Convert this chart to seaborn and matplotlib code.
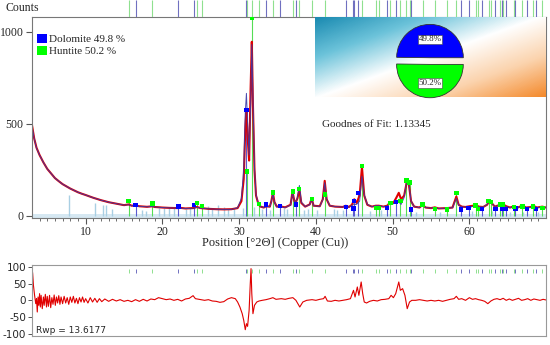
import numpy as np
import matplotlib.pyplot as plt
import matplotlib.colors as mcolors
from matplotlib.patches import Patch
from matplotlib.transforms import blended_transform_factory
import seaborn as sns

obs_2theta = [3.0, 3.3, 3.6, 4.0, 4.5, 5.0, 5.5, 6.0, 6.5, 7.0, 7.5, 8.0, 8.5, 9.0, 9.5, 10.0,
              11.0, 12.0, 13.0, 14.0, 15.0, 15.6, 16.0, 16.5, 17.0, 18.0, 18.7, 19.0, 20.0, 21.0,
              22.0, 22.2, 23.0, 24.0, 24.5, 25.0, 26.0, 27.0, 28.0, 29.0, 29.8, 30.3, 30.6, 30.8,
              30.95, 31.1, 31.3, 31.5, 31.65, 31.8, 32.0, 32.2, 32.5, 32.8, 33.2, 33.5, 34.0, 34.2,
              34.4, 34.6, 34.9, 35.3, 36.0, 36.7, 36.95, 37.2, 37.4, 37.6, 37.85, 38.1, 38.6, 39.2,
              39.45, 39.7, 40.5, 40.9, 41.15, 41.4, 41.8, 42.5, 43.5, 43.9, 44.3, 44.7, 45.0, 45.3,
              45.7, 46.0, 46.3, 46.7, 47.3, 47.8, 48.2, 48.8, 49.3, 49.7, 50.1, 50.5, 50.8, 51.1,
              51.5, 51.85, 52.1, 52.4, 52.8, 53.5, 53.9, 54.3, 55.0, 55.5, 56.0, 57.1, 57.8, 58.3,
              58.6, 59.0, 59.5, 60.0, 60.5, 60.8, 61.2, 61.8, 62.3, 62.6, 62.9, 63.3, 64.0, 64.4,
              64.8, 65.3, 65.8, 66.3, 66.9, 67.4, 68.0, 68.3, 68.8, 69.5, 70.0]
obs_counts = [495, 420, 370, 330, 290, 255, 230, 205, 188, 172, 160, 148, 138, 128, 120, 113,
              98, 85, 74, 66, 58, 62, 55, 56, 52, 49, 52, 48, 45, 43,
              42, 44, 40, 42, 48, 42, 38, 36, 35, 36, 42, 80, 200, 470,
              580, 430, 300, 700, 945, 600, 250, 110, 65, 50, 45, 52, 50, 80,
              125, 75, 50, 52, 46, 60, 130, 80, 75, 95, 145, 70, 50, 62,
              95, 55, 52, 90, 190, 90, 55, 50, 48, 55, 48, 60, 90, 70,
              110, 265, 110, 60, 50, 55, 55, 50, 55, 75, 70, 100, 125, 90,
              110, 185, 175, 80, 50, 45, 60, 45, 42, 46, 40, 42, 45, 105,
              60, 50, 48, 52, 55, 62, 50, 48, 60, 80, 70, 50, 60, 62,
              52, 45, 52, 45, 55, 45, 48, 55, 45, 50, 45]
calc_counts = [490, 420, 368, 330, 290, 255, 230, 205, 188, 172, 160, 148, 138, 128, 120, 113,
               98, 85, 74, 66, 58, 60, 55, 55, 52, 49, 51, 48, 45, 43,
               42, 43, 40, 41, 46, 42, 38, 36, 35, 35, 44, 95, 250, 560,
               665, 505, 330, 610, 930, 640, 265, 115, 67, 50, 45, 51, 49, 78,
               120, 74, 49, 51, 45, 58, 125, 80, 76, 100, 165, 75, 50, 61,
               93, 55, 51, 88, 180, 92, 56, 50, 48, 54, 47, 57, 62, 62,
               80, 215, 115, 62, 50, 55, 55, 50, 53, 70, 65, 82, 75, 62,
               100, 195, 180, 80, 50, 45, 58, 45, 42, 46, 40, 42, 44, 95,
               58, 48, 48, 46, 52, 58, 49, 48, 62, 82, 70, 50, 58, 58,
               50, 45, 50, 45, 52, 45, 47, 52, 45, 48, 44]

# difference curve (observed - calculated)
diff_2theta = [3.0, 3.1, 3.2, 3.35, 3.5, 3.6, 3.7, 3.8, 3.9, 4.0, 4.1, 4.2, 4.35, 4.5, 4.6, 4.75,
               4.9, 5.0, 5.15, 5.3, 5.45, 5.6, 5.75, 5.9, 6.05, 6.2, 6.35, 6.5, 6.65, 6.8, 7.0,
               7.2, 7.4, 7.6, 7.8, 8.0, 8.2, 8.4, 8.6, 8.8, 9.0, 9.2, 9.4, 9.6, 9.8, 10.0, 10.3,
               10.6, 10.9, 11.2, 11.5, 11.8, 12.1, 12.5, 13.0, 13.5, 14.0, 14.5, 15.0, 15.5, 16.0,
               16.5, 17.0, 17.5, 18.0, 18.5, 19.0, 19.5, 20.0, 20.5, 21.0, 21.5, 22.0, 22.5, 23.0,
               23.5, 24.0, 24.3, 24.8, 25.5, 26.0, 26.5, 27.0, 27.5, 28.0, 28.5, 29.0, 29.5, 29.8,
               30.1, 30.4, 30.6, 30.8, 30.95, 31.1, 31.3, 31.45, 31.55, 31.65, 31.8, 32.0, 32.3,
               32.6, 33.0, 33.5, 34.0, 34.4, 34.8, 35.5, 36.0, 36.5, 37.0, 37.4, 37.9, 38.3, 38.8,
               39.5, 40.0, 40.5, 41.0, 41.2, 41.5, 42.0, 42.5, 43.0, 43.5, 44.0, 44.5, 44.9, 45.1,
               45.4, 45.6, 45.9, 46.1, 46.3, 46.6, 47.0, 47.5, 48.0, 48.5, 49.0, 49.5, 49.8, 50.1,
               50.4, 50.8, 51.0, 51.3, 51.6, 51.9, 52.2, 52.5, 53.0, 53.5, 54.0, 54.5, 55.0, 55.5,
               56.0, 56.5, 57.0, 57.5, 58.0, 58.3, 58.6, 59.0, 59.5, 60.0, 60.4, 60.8, 61.2, 61.6,
               62.0, 62.4, 62.8, 63.2, 63.6, 64.0, 64.4, 64.8, 65.2, 65.6, 66.0, 66.4, 66.8, 67.2,
               67.6, 68.0, 68.4, 68.8, 69.2, 69.6, 70.0]
diff_counts = [100, 80, 45, 15, -10, 5, -35, 10, -15, 20, -20, 15, -25, 10, -15, 18,
               -20, 12, -18, 15, -22, 8, -12, 16, -15, 10, -8, 14, -12, 10, -10,
               12, -8, 8, -12, 10, -6, 12, -8, 6, -10, 8, -5, 10, -6, 5, -8,
               8, -5, 6, -6, 5, -4, 4, -3, 3, -2, 2, -3, 0, -4,
               2, -3, 3, -2, 4, 2, 8, 5, 2, 4, 0, 3, -2, 4,
               6, 14, 5, 3, 0, 2, -2, -3, -6, -4, 4, 8, 5, -5,
               -20, -40, -60, -88, -70, -78, -30, 50, 95, 20, -40, -15, -5,
               -2, 0, 2, 5, 8, 3, 5, 3, 6, 8, 0, -20, -5, 0,
               2, 0, 3, 5, 12, -2, -3, 0, -2, 0, 2, 5, 30, 10,
               40, 15, 55, 20, -5, -8, -3, 0, -2, 2, 3, 5, 15, 8,
               20, 55, 30, 35, 15, -25, -5, 0, 0, 2, 0, -2, 0, -2,
               0, -3, 0, 3, 5, 12, 3, 5, 0, 8, 3, 5, 2, 0,
               -3, -10, -2, 3, 5, 2, 6, 0, 4, 0, 3, 6, 0, 2,
               5, 0, 4, 2, 0, 3, 1]

# reference peak positions and heights
dolomite_pos = [16.5, 22.1, 24.1, 30.95, 33.5, 35.3, 37.4, 43.9, 44.9, 45.0, 45.5, 49.3,
                50.4, 52.4, 58.9, 59.9, 61.6, 63.4, 64.3, 64.8, 66.0, 67.5, 68.7]
dolomite_int = [60, 50, 60, 575, 61, 52, 61, 48, 40, 79, 124, 43,
                75, 34, 34, 43, 38, 36, 38, 38, 40, 38, 36]
huntite_pos = [15.6, 18.7, 24.5, 25.2, 31.0, 31.65, 32.6, 34.4, 37.0, 37.8, 39.5, 41.2,
               46.0, 47.8, 48.2, 49.7, 51.0, 51.8, 52.2, 53.9, 55.5, 57.1, 58.3, 60.8,
               61.1, 62.5, 62.8, 64.0, 64.4, 65.8, 66.9, 68.3, 69.5]
huntite_int = [80, 66, 70, 52, 240, 1075, 65, 127, 132, 147, 93, 115,
               272, 43, 43, 70, 80, 192, 181, 61, 38, 34, 124, 57,
               38, 82, 75, 61, 61, 48, 50, 50, 43]
other_pos = [7.8, 11.2, 12.3, 12.6, 13.5, 17.4, 17.9, 19.5, 20.2, 20.8, 21.5, 23.1, 23.6,
             26.0, 26.5, 27.2, 28.0, 28.6, 29.3, 30.5, 32.0, 33.0, 34.0, 35.8, 36.3, 38.5,
             39.0, 40.2, 42.3, 42.8, 43.5, 47.0, 48.5, 53.0, 56.2, 60.3, 63.0, 65.3, 67.0, 69.0]
other_int = [115, 70, 60, 58, 35, 30, 28, 40, 45, 50, 42, 38, 40,
             55, 45, 60, 50, 35, 45, 40, 50, 35, 30, 40, 35, 30,
             35, 30, 35, 30, 30, 25, 30, 20, 20, 25, 25, 20, 20, 20]

phases = ["Dolomite", "Huntite"]
phase_pct = [49.8, 50.2]
phase_colors = ["#0000ff", "#00ff00"]
gof = 1.13345
rwp = 13.6177

sns.set_theme(style="ticks")
plt.rcParams["font.family"] = ["Liberation Serif", "DejaVu Serif"]
plt.rcParams["axes.unicode_minus"] = False

fig = plt.figure(figsize=(5.5, 3.45), dpi=100)
ax = fig.add_axes([0.058, 0.368, 0.935, 0.583])
strip = fig.add_axes([0.058, 0.951, 0.935, 0.049], sharex=ax)
axd = fig.add_axes([0.058, 0.026, 0.935, 0.206], sharex=ax)

# main pattern
ax.axhspan(-12, 8, color="#d6e8f2", lw=0, zorder=0)
ax.vlines(other_pos, 0, other_int, color="#a9cfe3", lw=1)
ax.vlines(dolomite_pos, 0, dolomite_int, color="#5a5ad0", lw=0.8)
ax.vlines(huntite_pos, 0, huntite_int, color="#55dd55", lw=0.8)
sns.lineplot(x=obs_2theta, y=obs_counts, color="#e00000", lw=1.5, ax=ax)
sns.lineplot(x=obs_2theta, y=calc_counts, color="#3a3aa8", lw=0.7, alpha=0.9, ax=ax)
sns.scatterplot(x=dolomite_pos, y=dolomite_int, marker="s", s=10, color="#0000ff",
                edgecolor="none", ax=ax, zorder=5)
sns.scatterplot(x=huntite_pos, y=huntite_int, marker="s", s=10, color="#00ff00",
                edgecolor="none", ax=ax, zorder=5)

ax.set_xlim(3, 70)
ax.set_ylim(-12, 1080)
ax.set_xticks([10, 20, 30, 40, 50, 60])
ax.set_xticks(range(4, 70), minor=True)
ax.set_yticks([0, 500, 1000])
ax.tick_params(axis="both", which="major", length=4, width=0.8, color="#555555",
               labelsize=8.5, pad=2)
ax.tick_params(axis="x", which="minor", length=2, width=0.6, color="#555555")
for s in ax.spines.values():
    s.set_color("#777777")
    s.set_linewidth(0.8)
ax.set_xlabel("Position [°2Θ] (Copper (Cu))", fontsize=9)
ax.xaxis.set_label_coords(0.473, -0.095)
ax.set_ylabel("")

handles = [Patch(facecolor=c, edgecolor="none") for c in phase_colors]
labels = [f"{n} {p} %" for n, p in zip(phases, phase_pct)]
ax.legend(handles, labels, loc="upper left", bbox_to_anchor=(0.0, 0.945), frameon=False,
          handlelength=0.9, handleheight=0.9, handletextpad=0.15, borderaxespad=0.1,
          labelspacing=0.15, fontsize=8)
ax.text(0.564, 0.463, f"Goodnes of Fit: {gof}", transform=ax.transAxes, fontsize=8,
        va="center")
fig.text(5 / 550, 1 - 8 / 345, "Counts", fontsize=8.5, va="center")

# gradient box behind the pie
grad_ax = ax.inset_axes([0.551, 0.602, 0.449, 0.398])
u, v = np.meshgrid(np.linspace(0, 230, 230), np.linspace(0, 80, 80))
t = (77 * u + 213 * v) / (77 * 230 + 213 * 80)
cmap = mcolors.LinearSegmentedColormap.from_list(
    "box", ["#1889b0", "#6cc3da", "#ffffff", "#fbd3ad", "#f48a2c"])
grad_ax.imshow(t, cmap=cmap, aspect="auto", vmin=0, vmax=1)
grad_ax.axis("off")

ax_pie = fig.add_axes([0.709, 0.707, 0.1455, 0.232])
wedges, texts, autotexts = ax_pie.pie(
    phase_pct, colors=phase_colors, startangle=0, counterclock=True, explode=[0.1, 0.1],
    wedgeprops=dict(edgecolor="#333333", lw=0.6), autopct=lambda p: f"{p:.1f}%",
    pctdistance=0.55)
for at in autotexts:
    at.set_fontsize(6.5)
    at.set_bbox(dict(facecolor="white", edgecolor="#444444", lw=0.4, pad=0.6))
ax_pie.set_xlim(-1.2, 1.2)
ax_pie.set_ylim(-1.2, 1.2)
ax_pie.set_aspect("equal")
ax_pie.axis("off")

# reference tick strip above the pattern
strip.vlines(huntite_pos, 0, 1, color="#8fe08f", lw=0.8)
strip.vlines(dolomite_pos, 0, 1, color="#7070c0", lw=0.8)
strip.set_ylim(0, 1)
strip.axis("off")

# difference plot
sns.lineplot(x=diff_2theta, y=diff_counts, color="#e00000", lw=0.8, ax=axd)
tr = blended_transform_factory(axd.transData, axd.transAxes)
axd.vlines(huntite_pos, 0.88, 0.95, transform=tr, color="#8fe08f", lw=0.7)
axd.vlines(dolomite_pos, 0.88, 0.95, transform=tr, color="#7070c0", lw=0.7)
axd.set_ylim(-107, 106)
axd.set_yticks([-100, -50, 0, 50, 100])
axd.tick_params(axis="y", length=3, width=0.7, color="#555555", labelsize=7.5, pad=1,
                labelfontfamily="DejaVu Sans")
axd.tick_params(axis="x", which="both", bottom=False, labelbottom=False)
for s in axd.spines.values():
    s.set_color("#999999")
    s.set_linewidth(0.8)
axd.text(0.008, 0.04, f"Rwp = {rwp}", transform=axd.transAxes, fontsize=6.5,
         family="DejaVu Sans")

fig.savefig("out.png", dpi=100)
